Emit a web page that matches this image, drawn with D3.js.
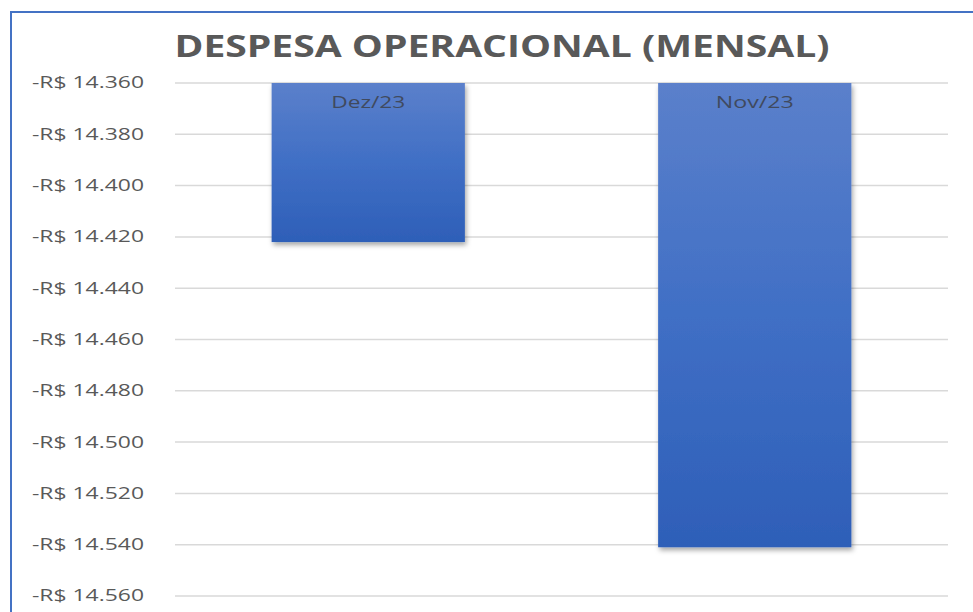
<!DOCTYPE html>
<html>
<head>
<meta charset="utf-8">
<script src="https://cdn.jsdelivr.net/npm/d3@7"></script>
<style>
  html, body { margin: 0; padding: 0; background: #fff; }
  svg { display: block; }
</style>
</head>
<body>
<figure id="chart" style="margin:0"></figure>
<script>
// values (R$, negative expense)
const months = ["Dez/23", "Nov/23"]
const values = [-14422, -14541]
const yTicks = [-14360, -14380, -14400, -14420, -14440, -14460, -14480, -14500, -14520, -14540, -14560]
const title = "DESPESA OPERACIONAL (MENSAL)"

const width = 973
const height = 612
const margin = { top: 83, right: 25, bottom: 16, left: 175 }

const ptBR = d3.formatLocale({
  decimal: ",",
  thousands: ".",
  grouping: [3],
  currency: ["R$ ", ""],
  minus: "-"
})
const fmt = ptBR.format("$,.0f")

const svg = d3.select("#chart").append("svg")
  .attr("width", width)
  .attr("height", height)

const defs = svg.append("defs")
const grad = defs.append("linearGradient")
  .attr("id", "barGrad")
  .attr("x1", 0).attr("y1", 0).attr("x2", 0).attr("y2", 1)
grad.append("stop").attr("offset", "0%").attr("stop-color", "#5b80cb")
grad.append("stop").attr("offset", "50%").attr("stop-color", "#406fc5")
grad.append("stop").attr("offset", "100%").attr("stop-color", "#2e5fb8")

const shadow = defs.append("filter")
  .attr("id", "shadow")
  .attr("x", "-10%").attr("y", "-10%").attr("width", "130%").attr("height", "130%")
shadow.append("feDropShadow")
  .attr("dx", 1.5).attr("dy", 3)
  .attr("stdDeviation", 2.5)
  .attr("flood-color", "#000")
  .attr("flood-opacity", 0.35)

// frame border (top + left visible)
svg.append("path")
  .attr("d", `M11,${height} V12 H${width}`)
  .attr("fill", "none")
  .attr("stroke", "#4472c4")
  .attr("stroke-width", 2)

svg.append("text")
  .attr("x", 502)
  .attr("y", 57)
  .attr("text-anchor", "middle")
  .attr("font-family", "'Open Sans', sans-serif")
  .attr("font-weight", "bold")
  .attr("font-size", 31)
  .attr("fill", "#595959")
  .attr("textLength", 655)
  .attr("lengthAdjust", "spacingAndGlyphs")
  .text(title)

const x = d3.scaleBand()
  .domain(months)
  .range([margin.left, width - margin.right])
  .paddingInner(0.5)
  .paddingOuter(0.25)

const y = d3.scaleLinear()
  .domain([-14360, -14560])
  .range([margin.top, height - margin.bottom])

// grid
svg.append("g")
  .selectAll("line")
  .data(yTicks)
  .join("line")
  .attr("x1", margin.left)
  .attr("x2", width - margin.right)
  .attr("y1", d => y(d))
  .attr("y2", d => y(d))
  .attr("stroke", "#d9d9d9")
  .attr("stroke-width", 1.5)

// y axis labels
const yAxis = svg.append("g")
  .attr("transform", `translate(144,0)`)
  .call(d3.axisLeft(y).tickValues(yTicks).tickFormat(fmt).tickSize(0).tickPadding(0))
yAxis.select(".domain").remove()
yAxis.selectAll("text")
  .attr("font-family", "'Open Sans', sans-serif")
  .attr("font-size", 15.5)
  .attr("fill", "#595959")
  .attr("textLength", 112)
  .attr("lengthAdjust", "spacingAndGlyphs")

// bars hang down from the axis top
const data = months.map((m, i) => ({ month: m, value: values[i] }))

svg.append("g")
  .selectAll("rect")
  .data(data)
  .join("rect")
  .attr("x", d => x(d.month))
  .attr("width", x.bandwidth())
  .attr("y", y(-14360))
  .attr("height", d => y(d.value) - y(-14360))
  .attr("fill", "url(#barGrad)")
  .attr("filter", "url(#shadow)")

svg.append("g")
  .selectAll("text")
  .data(data)
  .join("text")
  .attr("x", d => x(d.month) + x.bandwidth() / 2)
  .attr("y", y(-14360) + 25)
  .attr("text-anchor", "middle")
  .attr("font-family", "'Open Sans', sans-serif")
  .attr("font-size", 16)
  .attr("fill", "#404a5e")
  .attr("textLength", (d, i) => i === 0 ? 74 : 78)
  .attr("lengthAdjust", "spacingAndGlyphs")
  .text(d => d.month)
</script>
</body>
</html>
